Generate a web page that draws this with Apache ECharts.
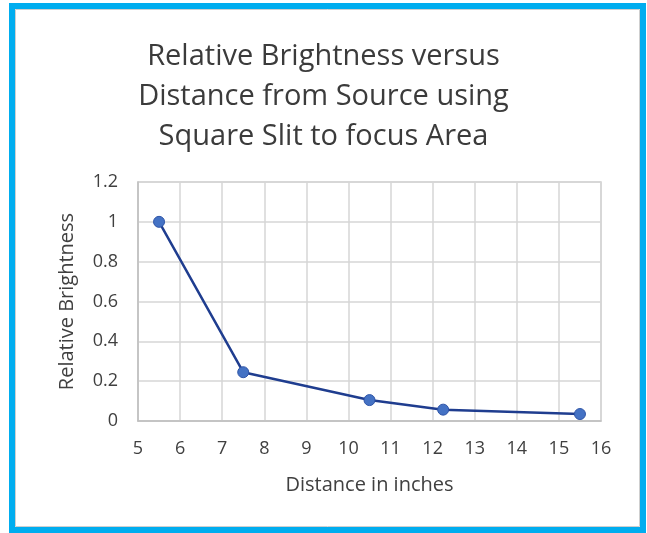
<!DOCTYPE html>
<html><head><meta charset="utf-8">
<script src="https://cdn.jsdelivr.net/npm/echarts@6/dist/echarts.min.js"></script>
<style>html,body{margin:0;padding:0;background:#fff}#c{width:647px;height:533px}</style>
</head><body><div id="c"></div>
<script>
const titleLines = ["Relative Brightness versus", "Distance from Source using", "Square Slit to focus Area"];
const distances = [5.5, 7.5, 10.5, 12.25, 15.5];
const brightness = [1.0, 0.245, 0.105, 0.057, 0.035];
const xTicks = {min: 5, max: 16, interval: 1};
const yTicks = {min: 0, max: 1.2, interval: 0.2};
const xName = "Distance in inches";
const yName = "Relative Brightness";

const font = "'Open Sans', sans-serif";
const chart = echarts.init(document.getElementById('c'));
chart.setOption({
  animation: false,
  backgroundColor: '#fff',
  title: {
    text: titleLines.join('\n'),
    left: 'center', top: 32,
    textStyle: {fontFamily: font, fontSize: 29, fontWeight: 'normal', color: '#3b3b3b', lineHeight: 40}
  },
  graphic: [
    {type: 'rect', shape: {x: 12, y: 6, width: 631, height: 524}, style: {fill: 'none', stroke: '#00adef', lineWidth: 6}, z: 100},
    {type: 'rect', shape: {x: 15.5, y: 9.5, width: 624, height: 517}, style: {fill: 'none', stroke: '#cfcfcf', lineWidth: 1}, z: 100}
  ],
  grid: {left: 138, right: 46, top: 182, bottom: 112, show: true, borderColor: '#d0d0d0', borderWidth: 1.5},
  xAxis: {
    type: 'value', min: xTicks.min, max: xTicks.max, interval: xTicks.interval,
    name: xName, nameLocation: 'middle', nameGap: 54,
    nameTextStyle: {fontFamily: font, fontSize: 20, color: '#404040'},
    axisLine: {show: true, onZero: false, lineStyle: {color: '#bfbfbf', width: 1.5}},
    axisTick: {show: false},
    axisLabel: {fontFamily: font, fontSize: 18, color: '#404040', margin: 19},
    splitLine: {show: true, lineStyle: {color: '#d6d6d6', width: 1.5}}
  },
  yAxis: {
    type: 'value', min: yTicks.min, max: yTicks.max, interval: yTicks.interval,
    name: yName, nameLocation: 'middle', nameGap: 61, nameRotate: 90,
    nameTextStyle: {fontFamily: font, fontSize: 20, color: '#404040'},
    axisLine: {show: true, lineStyle: {color: '#bfbfbf', width: 1.5}},
    axisTick: {show: false},
    axisLabel: {fontFamily: font, fontSize: 18, color: '#404040', margin: 20,
      formatter: v => String(Math.round(v * 10) / 10)},
    splitLine: {show: true, lineStyle: {color: '#d6d6d6', width: 1.5}}
  },
  series: [{
    type: 'line',
    data: distances.map((d, i) => [d, brightness[i]]),
    symbol: 'circle', symbolSize: 11,
    lineStyle: {color: '#1f3d8f', width: 2.5},
    itemStyle: {color: '#4472c4', borderColor: '#2f55a8', borderWidth: 1}
  }]
});
</script></body></html>
